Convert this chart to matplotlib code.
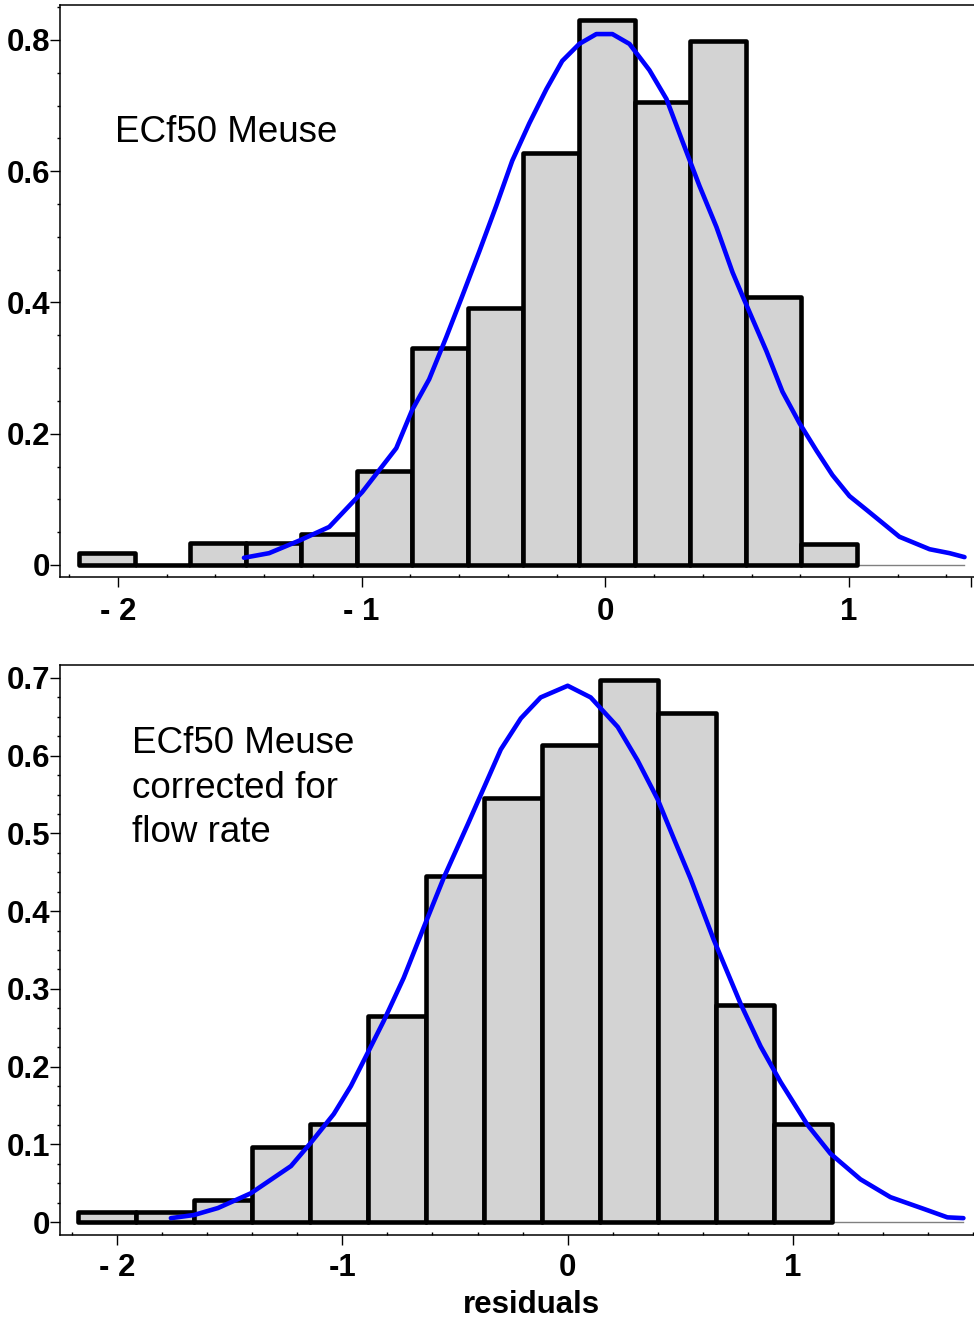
import numpy as np
from matplotlib import pyplot as plt
from matplotlib.ticker import MultipleLocator

plt.rcParams['font.family'] = ['Liberation Sans', 'DejaVu Sans']

# top panel: ECf50 Meuse
top_edges = [-2.160, -1.932, -1.704, -1.476, -1.248, -1.020, -0.792, -0.564,
             -0.336, -0.108, 0.120, 0.348, 0.576, 0.804, 1.032]
top_heights = [0.019, 0.0, 0.033, 0.033, 0.047, 0.143, 0.331, 0.392,
               0.628, 0.830, 0.705, 0.798, 0.408, 0.032]
top_curve_x = [-1.483, -1.380, -1.257, -1.133, -0.998, -0.858, -0.793, -0.723,
               -0.653, -0.587, -0.517, -0.448, -0.382, -0.312, -0.242, -0.177,
               -0.107, -0.037, 0.029, 0.099, 0.181, 0.251, 0.316, 0.386,
               0.456, 0.522, 0.563, 0.661, 0.727, 0.797, 0.867, 0.932,
               1.002, 1.072, 1.138, 1.207, 1.331, 1.413, 1.474]
top_curve_y = [0.011, 0.018, 0.037, 0.058, 0.111, 0.178, 0.236, 0.283,
               0.347, 0.410, 0.478, 0.547, 0.616, 0.673, 0.725, 0.768,
               0.794, 0.809, 0.809, 0.794, 0.754, 0.710, 0.646, 0.578,
               0.515, 0.446, 0.410, 0.326, 0.264, 0.216, 0.174, 0.137,
               0.105, 0.084, 0.064, 0.043, 0.024, 0.018, 0.012]
top_xticks = [-2, -1, 0, 1, 1.5]
top_xlabels = ['- 2', '- 1', '0', '1', '']
top_yticks = [0, 0.2, 0.4, 0.6, 0.8]
top_ylabels = ['0', '0.2', '0.4', '0.6', '0.8']

# bottom panel: corrected for flow rate
bot_edges = [-2.173, -1.916, -1.658, -1.401, -1.143, -0.886, -0.629, -0.371,
             -0.114, 0.144, 0.401, 0.658, 0.916, 1.173]
bot_heights = [0.013, 0.013, 0.028, 0.097, 0.126, 0.265, 0.445, 0.546,
               0.614, 0.698, 0.655, 0.279, 0.126]
bot_curve_x = [-1.761, -1.659, -1.552, -1.406, -1.228, -1.140, -1.038, -0.962,
               -0.887, -0.816, -0.728, -0.639, -0.550, -0.443, -0.373, -0.297,
               -0.208, -0.120, 0.000, 0.102, 0.222, 0.310, 0.399, 0.470,
               0.545, 0.647, 0.767, 0.856, 0.945, 1.064, 1.166, 1.299,
               1.432, 1.579, 1.685, 1.756]
bot_curve_y = [0.005, 0.009, 0.018, 0.037, 0.072, 0.102, 0.139, 0.175,
               0.218, 0.259, 0.314, 0.379, 0.443, 0.512, 0.558, 0.608,
               0.648, 0.675, 0.690, 0.675, 0.637, 0.594, 0.544, 0.494,
               0.442, 0.364, 0.281, 0.226, 0.180, 0.125, 0.088, 0.055,
               0.032, 0.017, 0.006, 0.005]
bot_xticks = [-2, -1, 0, 1]
bot_xlabels = ['- 2', '-1', '0', '1']
bot_yticks = [0, 0.1, 0.2, 0.3, 0.4, 0.5, 0.6, 0.7]
bot_ylabels = ['0', '0.1', '0.2', '0.3', '0.4', '0.5', '0.6', '0.7']

W, H = 974, 1319
fig = plt.figure(figsize=(W / 100, H / 100), dpi=100)


def panel(rect, edges, heights, cx, cy, xlim, ylim, xticks, xlabels,
          yticks, ylabels, yminor, xpad):
    ax = fig.add_axes(rect)
    ax.plot([edges[0], cx[-1]], [0, 0], color='#808080', lw=1, zorder=1)
    ax.bar(edges[:-1], heights, width=np.diff(edges), align='edge',
           color='#d3d3d3', edgecolor='black', linewidth=3.3, joinstyle='round',
           zorder=2)
    ax.plot(cx, cy, color='#0000ff', lw=3.3, zorder=3, solid_capstyle='round',
            solid_joinstyle='round')
    ax.set_xlim(xlim)
    ax.set_ylim(ylim)
    ax.set_xticks(xticks)
    ax.set_xticklabels(xlabels)
    ax.set_yticks(yticks)
    ax.set_yticklabels(ylabels)
    ax.xaxis.set_minor_locator(MultipleLocator(0.2))
    ax.yaxis.set_minor_locator(MultipleLocator(yminor))
    ax.spines['right'].set_visible(False)
    for s in ['left', 'top', 'bottom']:
        ax.spines[s].set_linewidth(1.1)
    ax.tick_params(axis='both', which='major', length=7, width=1,
                   labelsize=22.5, direction='out')
    ax.tick_params(axis='x', which='major', pad=xpad)
    ax.tick_params(axis='y', which='major', pad=0)
    ax.tick_params(axis='y', which='minor', length=2.5, width=1, direction='out')
    ax.tick_params(axis='x', which='minor', length=2.5, width=1, direction='in')
    for lab in ax.get_xticklabels() + ax.get_yticklabels():
        lab.set_fontweight('bold')
    return ax


ax1 = panel([60 / W, 1 - 577 / H, 914 / W, 572 / H], top_edges, top_heights,
            top_curve_x, top_curve_y, (-2.238, 1.513), (-0.0183, 0.8533),
            top_xticks, top_xlabels, top_yticks, top_ylabels, 0.05, 7.5)
ax1.text(0.060, 0.760, 'ECf50 Meuse', transform=ax1.transAxes,
         fontsize=26.5, va='baseline', ha='left')

ax2 = panel([60 / W, 1 - 1235 / H, 914 / W, 570 / H], bot_edges, bot_heights,
            bot_curve_x, bot_curve_y, (-2.253, 1.803), (-0.0167, 0.7167),
            bot_xticks, bot_xlabels, bot_yticks, bot_ylabels, 0.025, 6)
for i, line in enumerate(['ECf50 Meuse', 'corrected for', 'flow rate']):
    ax2.text(0.0788, 0.8456 - i * 0.0785, line, transform=ax2.transAxes,
             fontsize=26.5, va='baseline', ha='left')

fig.text(531 / W, 1 - 1313 / H, 'residuals', fontsize=22.5, fontweight='bold',
         ha='center', va='baseline')

fig.savefig('out.png', dpi=100)
